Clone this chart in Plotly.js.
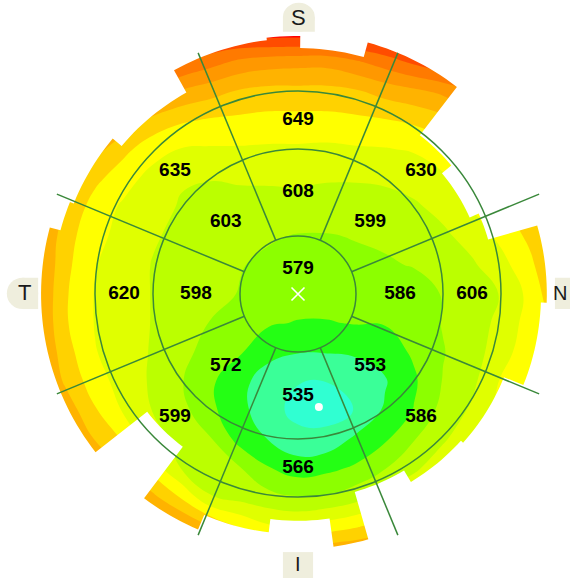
<!DOCTYPE html>
<html>
<head>
<meta charset="utf-8">
<script src="https://cdn.plot.ly/plotly-3.0.1.min.js"></script>
<style>
  html, body { margin: 0; padding: 0; background: #ffffff; }
  #chart { width: 570px; height: 578px; }
</style>
</head>
<body>
<div id="chart"></div>
<script>
// ---- Sector averages (µm); sectors listed counter-clockwise starting at nasal ----
const centreValue = 579;
const sectorAngles = [0, 45, 90, 135, 180, 225, 270, 315];
const innerRingValues = [586, 599, 608, 603, 598, 572, 535, 553];
const outerRingValues = [606, 630, 649, 635, 620, 599, 566, 586];

// ---- Thickness map (µm) on a 0.5 mm grid; rows run from top (y = 4.5) to bottom ----
const gridX = [-4.5, -4, -3.5, -3, -2.5, -2, -1.5, -1, -0.5, 0, 0.5, 1, 1.5, 2, 2.5, 3, 3.5, 4, 4.5];
const gridYTopDown = [4.5, 4, 3.5, 3, 2.5, 2, 1.5, 1, 0.5, 0, -0.5, -1, -1.5, -2, -2.5, -3, -3.5, -4, -4.5];
const thicknessRows = [
  [null, null, null, null, 775, 772, 770, 768, 770, 770, 770, 772, 775, 778, 780, null, null, null, null],
  [null, null, null, 765, 761, 741, 728, 715, 709, 707, 707, 717, 730, 744, 757, 765, null, null, null],
  [null, null, 748, 733, 712, 698, 688, 678, 674, 674, 674, 678, 688, 696, 705, 722, 738, null, null],
  [null, 735, 712, 695, 675, 663, 658, 656, 654, 654, 654, 656, 659, 664, 674, 691, 717, 735, null],
  [745, 718, 688, 666, 647, 639, 638, 638, 637, 637, 636, 638, 639, 642, 651, 666, 689, 718, 735],
  [735, 698, 666, 647, 634, 622, 621, 623, 623, 624, 622, 622, 623, 628, 637, 651, 669, 695, 727],
  [718, 680, 650, 637, 627, 618, 612, 611, 612, 611, 610, 610, 613, 617, 626, 641, 657, 677, 709],
  [708, 668, 646, 633, 622, 615, 609, 604, 602, 599, 599, 601, 603, 609, 616, 628, 645, 665, 696],
  [705, 665, 641, 630, 619, 613, 606, 601, 596, 594, 594, 596, 598, 601, 608, 617, 633, 655, 687],
  [703, 662, 639, 629, 619, 612, 606, 599, 593, 588, 587, 586, 587, 592, 601, 610, 621, 646, 680],
  [703, 662, 639, 629, 619, 609, 599, 590, 582, 579, 579, 581, 581, 589, 601, 611, 625, 649, 668],
  [706, 668, 641, 630, 618, 605, 593, 582, 566, 561, 561, 563, 570, 583, 599, 611, 631, 653, 670],
  [708, 676, 649, 631, 617, 601, 583, 566, 550, 541, 540.5, 547, 558, 577, 601, 615, 642, 661, 675],
  [716, 692, 662, 637, 619, 606, 584, 566, 547, 534, 531, 541, 563, 581, 607, 623, 650, 665, 681],
  [728, 706, 679, 657, 629, 612, 601, 572, 559, 546, 547, 564, 577, 599, 615, 645, 662, 681, 701],
  [null, 722, 700, 681, 651, 618, 610, 601, 581, 570, 575, 583, 599, 613, 642, 661, 678, 695, null],
  [null, null, 725, 706, 685, 657, 621, 613, 606, 601, 602, 612, 628, 650, 665, 685, 699, null, null],
  [null, null, null, 735, 719, 702, 679, 657, 642, 639, 648, 657, 670, 681, 690, 701, null, null, null],
  [null, null, null, null, 745, 730, 715, 705, 690, 681, 699, 705, 705, 710, 715, null, null, null, null]
];

// ---- Scanned area: angular segments (deg, counter-clockwise from nasal) and their reach (mm) ----
const coverageFrom   = [-22, -2, 16, 24, 40, 52.5, 74.5, 89.5, 97, 119, 140, 158, 165, 218, 233, 247, 263, 278, 286, 301, 318];
const coverageRadius = [4.19, 4.29, 3.41, 3.24, 3.45, 4.5, 4.24, 4.45, 4.41, 3.97, 4.17, 4.24, 4.43, 3.3, 4.41, 4.14, 3.91, 4.40, 3.55, 3.78, 3.83];

// ---- Thinnest point (mm) ----
const thinnestX = [0.36];
const thinnestY = [-1.95];

// ---- Drawing helpers ----
const DEG = Math.PI / 180;
const ringRadii = [1, 2.5, 3.5];           // zone boundaries, mm
const spokeAngles = [22.5, 67.5, 112.5, 157.5, 202.5, 247.5, 292.5, 337.5];
const spokeFrom = 1, spokeTo = 4.5;
const innerLabelRadius = 1.76, outerLabelRadius = 3.0, centreLabelLift = 0.43;

const bandColours = ['#30ffd2', '#3aff98', '#24ff14', '#8cff00', '#bbff00', '#e0ff00',
                     '#ffff00', '#ffd200', '#ffb300', '#ff9800', '#ff7a00', '#ff4c00', '#ff0000'];
const nBands = bandColours.length - 1;
const colorscale = bandColours.map((c, i) => [i / nBands, c]);

const gridY = gridYTopDown.slice().reverse();
const zRows = thicknessRows.slice().reverse();

const mapTrace = {
  type: 'contour',
  x: gridX, y: gridY, z: zRows,
  autocontour: false,
  contours: { start: 540, end: 760, size: 20, coloring: 'fill', showlines: false },
  colorscale: colorscale,
  showscale: false,
  line: { width: 0, smoothing: 1.3 },
  hoverinfo: 'skip'
};

// white surround outside the scanned area (frame ccw, scan edge cw)
function surroundTrace() {
  const edge = [];
  for (let i = 0; i < coverageFrom.length; i++) {
    const a0 = coverageFrom[i];
    const a1 = i + 1 < coverageFrom.length ? coverageFrom[i + 1] : coverageFrom[0] + 360;
    const n = Math.max(2, Math.ceil((a1 - a0) / 1.5));
    for (let k = 0; k <= n; k++) {
      const a = (a0 + (a1 - a0) * k / n) * DEG;
      edge.push([coverageRadius[i] * Math.cos(a), coverageRadius[i] * Math.sin(a)]);
    }
  }
  edge.reverse();
  const far = 30, big = 40, a0 = coverageFrom[0] * DEG;
  const q = [far * Math.cos(a0), far * Math.sin(a0)];
  const pts = [q, [big, big], [-big, big], [-big, -big], [big, -big], q].concat(edge, [q]);
  return {
    type: 'scatter', mode: 'lines',
    x: pts.map(p => p[0]), y: pts.map(p => p[1]),
    fill: 'toself', fillcolor: '#ffffff',
    line: { width: 0, color: 'rgba(0,0,0,0)', simplify: false },
    hoverinfo: 'skip', showlegend: false
  };
}

const spokeX = [], spokeY = [];
spokeAngles.forEach(a => {
  spokeX.push(spokeFrom * Math.cos(a * DEG), spokeTo * Math.cos(a * DEG), null);
  spokeY.push(spokeFrom * Math.sin(a * DEG), spokeTo * Math.sin(a * DEG), null);
});
const gridGreen = 'rgb(58,136,58)';
const spokeTrace = {
  type: 'scatter', mode: 'lines', x: spokeX, y: spokeY,
  line: { color: gridGreen, width: 1.5 }, hoverinfo: 'skip', showlegend: false
};

const labelX = [0], labelY = [centreLabelLift], labelText = [String(centreValue)];
sectorAngles.forEach((a, i) => {
  labelX.push(innerLabelRadius * Math.cos(a * DEG)); labelY.push(innerLabelRadius * Math.sin(a * DEG));
  labelText.push(String(innerRingValues[i]));
  labelX.push(outerLabelRadius * Math.cos(a * DEG)); labelY.push(outerLabelRadius * Math.sin(a * DEG));
  labelText.push(String(outerRingValues[i]));
});
const labelTrace = {
  type: 'scatter', mode: 'text', x: labelX, y: labelY, text: labelText,
  textposition: 'middle center',
  textfont: { family: 'Liberation Sans, Arial, sans-serif', size: 19, color: '#000000', weight: 'bold' },
  hoverinfo: 'skip', showlegend: false, cliponaxis: false
};

const centreMark = {
  type: 'scatter', mode: 'markers', x: [0], y: [0],
  marker: { symbol: 'x-thin-open', size: 13, color: '#ffffff', line: { color: '#ffffff', width: 1.6 } },
  hoverinfo: 'skip', showlegend: false
};
const thinMark = {
  type: 'scatter', mode: 'markers', x: thinnestX, y: thinnestY,
  marker: { symbol: 'circle', size: 8, color: '#ffffff', line: { width: 0 } },
  hoverinfo: 'skip', showlegend: false
};

// zone rings
const shapes = ringRadii.map(r => ({
  type: 'circle', xref: 'x', yref: 'y', x0: -r, x1: r, y0: -r, y1: r,
  line: { color: gridGreen, width: 1.5 }, layer: 'above'
}));

// orientation tabs
const tab = '#efeedd';
function addTab(parts) {
  parts.forEach(p => shapes.push(Object.assign({ xref: 'x', yref: 'y', fillcolor: tab, line: { width: 0 }, layer: 'above' }, p)));
}
addTab([{ type: 'circle', x0: -0.26, x1: 0.29, y0: 4.52, y1: 5.02 }, { type: 'rect', x0: -0.26, x1: 0.29, y0: 4.52, y1: 4.77 }]);
addTab([{ type: 'circle', x0: -5.02, x1: -4.48, y0: -0.26, y1: 0.28 }, { type: 'rect', x0: -4.75, x1: -4.48, y0: -0.26, y1: 0.28 }]);
addTab([{ type: 'rect', x0: 4.43, x1: 5.3, y0: -0.26, y1: 0.28 }]);
addTab([{ type: 'rect', x0: -0.26, x1: 0.26, y0: -5.0, y1: -4.45 }]);

const tabFont = { family: 'Liberation Sans, Arial, sans-serif', size: 22, color: '#1a1a1a' };
const annotations = [
  { text: 'S', xref: 'x', x: 0, y: 4.76, xanchor: 'center' },
  { text: 'T', xref: 'x', x: -4.72, y: 0.02, xanchor: 'center' },
  { text: 'N', xref: 'paper', x: 1, xshift: -1, y: 0.02, xanchor: 'right', font: Object.assign({}, tabFont, { size: 20 }) },
  { text: 'I', xref: 'x', x: 0, y: -4.66, xanchor: 'center', font: Object.assign({}, tabFont, { size: 20 }) }
].map(a => Object.assign({ yref: 'y', showarrow: false, font: tabFont, yanchor: 'middle' }, a));

const layout = {
  width: 570, height: 578,
  margin: { l: 0, r: 0, t: 0, b: 0, pad: 0 },
  paper_bgcolor: '#ffffff', plot_bgcolor: '#ffffff',
  xaxis: { range: [-298 / 58, 272 / 58], visible: false, showgrid: false, zeroline: false, fixedrange: true },
  yaxis: { range: [-284 / 58, 294 / 58], visible: false, showgrid: false, zeroline: false, fixedrange: true },
  showlegend: false,
  shapes: shapes,
  annotations: annotations
};

Plotly.newPlot('chart', [mapTrace, surroundTrace(), spokeTrace, labelTrace, centreMark, thinMark], layout,
  { displayModeBar: false, staticPlot: true });
</script>
</body>
</html>
